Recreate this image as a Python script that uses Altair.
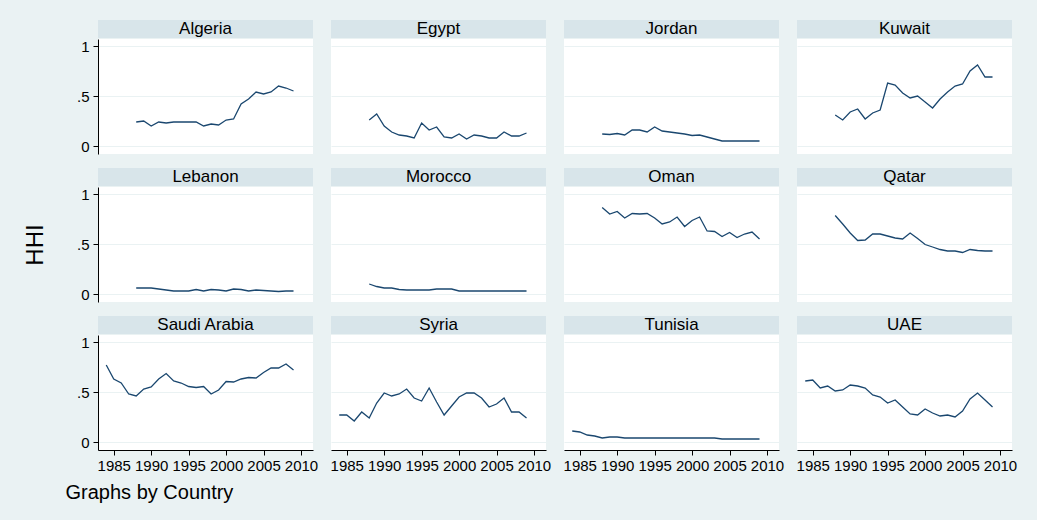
import altair as alt
import pandas as pd

countries = ["Algeria", "Egypt", "Jordan", "Kuwait",
             "Lebanon", "Morocco", "Oman", "Qatar",
             "Saudi Arabia", "Syria", "Tunisia", "UAE"]

years_late = list(range(1988, 2010))   # 22 years
years_full = list(range(1984, 2010))   # 26 years

algeria = [.24, .25, .20, .24, .23, .24, .24, .24, .24, .20, .22, .21,
           .26, .27, .42, .47, .54, .52, .54, .60, .58, .55]
egypt = [.26, .32, .20, .14, .11, .10, .08, .23, .16, .19, .09, .08,
         .12, .07, .11, .10, .08, .08, .14, .10, .10, .13]
jordan = [.12, .115, .125, .11, .16, .16, .14, .19, .15, .14, .13, .12,
          .105, .11, .09, .07, .05, .05, .05, .05, .05, .05]
kuwait = [.31, .26, .34, .37, .27, .33, .36, .63, .61, .53, .48, .50,
          .44, .38, .47, .54, .60, .62, .75, .81, .69, .69]
lebanon = [.06, .06, .06, .05, .04, .03, .03, .03, .045, .03, .045, .04,
           .03, .05, .045, .03, .04, .035, .03, .025, .03, .03]
morocco = [.10, .075, .06, .06, .045, .04, .04, .04, .04, .05, .05, .05,
           .03, .03, .03, .03, .03, .03, .03, .03, .03, .03]
oman = [.865, .80, .825, .76, .805, .80, .805, .76, .70, .72, .77, .675,
        .735, .77, .63, .625, .575, .615, .565, .60, .62, .55]
qatar = [.785, .70, .61, .535, .54, .60, .60, .58, .56, .55, .61, .555,
         .495, .47, .445, .43, .43, .415, .445, .435, .43, .43]
saudi = [.77, .63, .59, .48, .46, .53, .55, .63, .685, .61, .59, .555, .545,
         .555, .48, .52, .605, .60, .63, .645, .64, .695, .74, .74, .78, .72]
syria = [.27, .27, .21, .30, .24, .39, .49, .46, .48, .53, .44, .41, .54,
         .40, .27, .36, .45, .49, .49, .44, .35, .38, .44, .30, .30, .24]
tunisia = [.11, .10, .07, .06, .04, .05, .05, .04, .04, .04, .04, .04, .04,
           .04, .04, .04, .04, .04, .04, .04, .03, .03, .03, .03, .03, .03]
uae = [.61, .62, .54, .56, .51, .52, .57, .56, .54, .47, .45, .39, .42,
       .35, .28, .27, .33, .29, .26, .27, .25, .31, .43, .49, .42, .35]

series = {
    "Algeria": (years_late, algeria), "Egypt": (years_late, egypt),
    "Jordan": (years_late, jordan), "Kuwait": (years_late, kuwait),
    "Lebanon": (years_late, lebanon), "Morocco": (years_late, morocco),
    "Oman": (years_late, oman), "Qatar": (years_late, qatar),
    "Saudi Arabia": (years_full, saudi), "Syria": (years_full, syria),
    "Tunisia": (years_full, tunisia), "UAE": (years_full, uae),
}

x_ticks = [1985, 1990, 1995, 2000, 2005, 2010]
y_ticks = [0, 0.5, 1]

BG = "#EAF2F3"
STRIP = "#D8E5EA"
LINE = "#1A476F"
FONT = "Liberation Sans"
W, H = 215, 115

panels = []
for i, c in enumerate(countries):
    row, col = divmod(i, 4)
    yrs, vals = series[c]
    df = pd.DataFrame({"year": yrs, "hhi": vals})

    if col == 0:
        yaxis = alt.Axis(values=y_ticks, grid=True, gridColor=BG, gridWidth=1,
                         labelExpr="datum.value == 0 ? '0' : (datum.value == 1 ? '1' : '.5')",
                         tickSize=5, tickColor="black", domainColor="black",
                         labelFontSize=15, labelColor="black", labelPadding=4,
                         title=("HHI" if row == 1 else None),
                         titleFontSize=24, titleFontWeight="normal", titleColor="black",
                         titlePadding=29, titleFont=FONT)
    else:
        yaxis = alt.Axis(values=y_ticks, grid=True, gridColor=BG, gridWidth=1,
                         labels=False, ticks=False, domain=False, title=None)
    yenc = alt.Y("hhi:Q", scale=alt.Scale(domain=[-0.08, 1.07], nice=False, zero=False),
                 axis=yaxis)
    if row == 2:
        xenc = alt.X("year:Q", scale=alt.Scale(domain=[1982.9, 2011.6], nice=False, zero=False),
                     axis=alt.Axis(values=x_ticks, format="d", grid=False, tickSize=5,
                                   tickColor="black", domainColor="black", labelFontSize=15,
                                   labelColor="black", labelPadding=3, title=None,
                                   labelOverlap=False))
    else:
        xenc = alt.X("year:Q", scale=alt.Scale(domain=[1982.9, 2011.6], nice=False, zero=False),
                     axis=None)

    line = alt.Chart(df).mark_line(color=LINE, strokeWidth=1.3).encode(x=xenc, y=yenc)
    lab = pd.DataFrame({"label": [c]})
    strip = alt.Chart(lab).mark_rect(color=STRIP).encode(
        x=alt.value(0), x2=alt.value(W), y=alt.value(-19), y2=alt.value(-1))
    txt = alt.Chart(lab).mark_text(font=FONT, fontSize=17, color="black",
                                   baseline="middle", align="center").encode(
        text="label:N", x=alt.value(W / 2), y=alt.value(-10))
    panels.append(alt.layer(strip, txt, line).properties(width=W, height=H))

chart = alt.concat(*panels, columns=4, spacing={"row": 14, "column": 12}).properties(
    background=BG,
    padding={"left": 23, "top": 20, "right": 20, "bottom": 20},
    title=alt.TitleParams(text="Graphs by Country", orient="bottom", anchor="start",
                          fontSize=20, fontWeight="normal", font=FONT, color="black",
                          dx=42, offset=10),
).configure_view(stroke=None, fill="white").configure_axis(labelFont=FONT)

chart.save("out.html", embed_options={"renderer": "svg", "actions": False})
